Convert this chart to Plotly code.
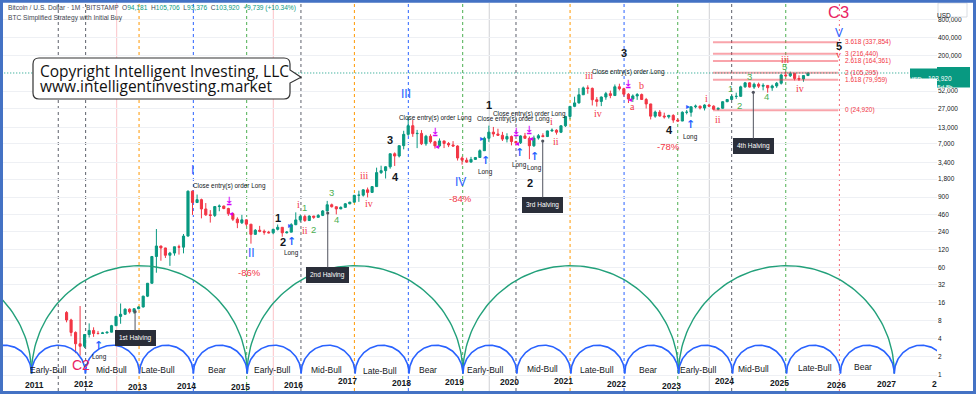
import numpy as np
import pandas as pd
import plotly.graph_objects as go

# ---------------- data: BTC/USD monthly (Bitstamp), Aug 2011 .. May 2025 ----------------
months = pd.date_range("2011-08-01", "2025-05-01", freq="MS").strftime("%Y-%m-%d").tolist()

opens = [
    10.9, 8.2, 5.1, 3.3, 3.0,
    4.7, 5.5, 4.9, 4.9, 5.0, 5.15, 6.6, 9.4, 10.2, 12.4, 11.2, 12.6,
    13.5, 20.4, 33.4, 93, 139, 129, 97.5, 106, 135, 133, 203, 1130,
    732, 818, 573, 457, 447, 628, 640, 583, 478, 387, 338, 378,
    320, 217, 254, 244, 236, 230, 263, 284, 230, 236, 314, 377,
    430, 368, 437, 416, 448, 531, 673, 624, 574, 609, 698, 742,
    966, 971, 1190, 1080, 1348, 2300, 2480, 2875, 4735, 4338, 6450, 9946,
    13850, 10221, 10309, 6925, 9240, 7494, 6391, 7729, 7012, 6626, 6363, 4025,
    3709, 3437, 3811, 4103, 5321, 8559, 10818, 10085, 9590, 8290, 9150, 7545,
    7195, 9352, 8543, 6425, 8625, 9445, 9140, 11340, 11655, 10780, 13790, 19700,
    28990, 33110, 45180, 58790, 57720, 37300, 35040, 41460, 47130, 43830, 61340, 57000,
    46200, 38480, 43190, 45540, 37710, 31800, 19940, 23300, 20040, 19420, 20490, 17160,
    16540, 23130, 23140, 28470, 29260, 27220, 30480, 29230, 25940, 26960, 34650, 37720,
    42280, 42580, 61180, 71330, 60650, 67530, 62750, 64620, 58970, 63330, 70290, 96400,
    93430, 102400, 84350, 82550, 94181,
]
highs = [
    11.5, 8.6, 5.3, 14.0, 4.8,
    7.2, 6.2, 5.4, 5.2, 5.2, 6.8, 9.6, 15.4, 12.8, 12.8, 12.8, 13.9,
    20.7, 33.8, 95, 266, 140, 130, 111, 135, 146, 220, 1163, 1165,
    995, 850, 718, 548, 629, 680, 651, 600, 492, 416, 457, 384,
    320, 265, 300, 261, 248, 268, 316, 285, 245, 332, 503, 465,
    460, 448, 440, 470, 550, 780, 704, 625, 633, 720, 755, 980,
    1153, 1215, 1300, 1363, 2780, 2999, 2940, 4790, 4986, 6470, 11400, 19666,
    17176, 11786, 11700, 9760, 9990, 7768, 8507, 7760, 7400, 7680, 6540, 4255,
    4070, 4200, 4140, 5600, 9080, 13880, 13200, 12325, 10930, 10370, 9500, 7750,
    9578, 10500, 9190, 9470, 10070, 10380, 11450, 12470, 12080, 14100, 19930, 29300,
    41950, 58350, 61780, 64900, 59600, 41330, 42300, 50500, 52920, 67000, 69000, 59100,
    47990, 45800, 48230, 47440, 40050, 31990, 24680, 25200, 22800, 20990, 21470, 18400,
    23960, 25250, 29200, 31030, 29830, 31440, 31830, 30230, 27480, 35200, 38430, 44730,
    48970, 63900, 73800, 72800, 71980, 71970, 70000, 65100, 66500, 73600, 99800, 108350,
    109590, 102780, 95000, 95700, 105706,
]
lows = [
    7.5, 4.4, 2.3, 2.1, 2.8,
    4.2, 4.3, 4.7, 4.8, 4.9, 5.1, 6.5, 7.1, 9.9, 10.5, 10.4, 12.4,
    13.2, 19.7, 33, 50, 79, 88, 65, 96, 100, 105, 200, 456,
    733, 400, 440, 340, 421, 525, 567, 440, 361, 275, 322, 296,
    152, 212, 235, 214, 225, 218, 252, 198, 225, 236, 308, 350,
    350, 365, 393, 412, 436, 520, 605, 465, 570, 605, 685, 740,
    752, 920, 891, 1060, 1345, 2185, 1837, 2671, 2970, 4110, 5600, 9380,
    9036, 5873, 6600, 6430, 7030, 5755, 6070, 5880, 6100, 6200, 3652, 3122,
    3350, 3390, 3780, 4080, 5310, 7450, 9060, 9350, 7710, 7300, 6520, 6435,
    6880, 8440, 3850, 6150, 8120, 8900, 8970, 10990, 9850, 10440, 13220, 17600,
    28130, 32300, 45000, 47000, 30000, 28800, 29280, 37330, 39600, 43300, 53300, 42000,
    32950, 34300, 37170, 37550, 26700, 17590, 18780, 19550, 18150, 18180, 15480, 16260,
    16500, 21350, 19550, 26940, 25800, 24780, 28900, 25330, 24920, 26540, 34100, 37610,
    38550, 41880, 59100, 59600, 56500, 58400, 53500, 49000, 52550, 58900, 66800, 90500,
    89200, 78200, 76600, 74400, 93376,
]
closes = [
    8.2, 5.1, 3.3, 3.0, 4.7,
    5.5, 4.9, 4.9, 5.0, 5.15, 6.6, 9.4, 10.2, 12.4, 11.2, 12.6, 13.5,
    20.4, 33.4, 93, 139, 129, 97.5, 106, 135, 133, 203, 1130, 732,
    818, 573, 457, 447, 628, 640, 583, 478, 387, 338, 378, 320,
    217, 254, 244, 236, 230, 263, 284, 230, 236, 314, 377, 430,
    368, 437, 416, 448, 531, 673, 624, 574, 609, 698, 742, 966,
    971, 1190, 1080, 1348, 2300, 2480, 2875, 4735, 4338, 6450, 9946, 13850,
    10221, 10309, 6925, 9240, 7494, 6391, 7729, 7012, 6626, 6363, 4025, 3709,
    3437, 3811, 4103, 5321, 8559, 10818, 10085, 9590, 8290, 9150, 7545, 7195,
    9352, 8543, 6425, 8625, 9445, 9140, 11340, 11655, 10780, 13790, 19700, 28990,
    33110, 45180, 58790, 57720, 37300, 35040, 41460, 47130, 43830, 61340, 57000, 46200,
    38480, 43190, 45540, 37710, 31800, 19940, 23300, 20040, 19420, 20490, 17160, 16540,
    23130, 23140, 28470, 29260, 27220, 30480, 29230, 25940, 26960, 34650, 37720, 42280,
    42580, 61180, 71330, 60650, 67530, 62750, 64620, 58970, 63330, 70290, 96400, 93430,
    102400, 84350, 82550, 94181, 103920,
]

price_ticks = [1, 2, 4, 8, 16, 32, 60, 120, 240, 460, 900, 1800, 3400, 7000, 13000,
               27000, 52000, 200000, 400000, 800000]

# Fibonacci extension levels (log)
fib_levels = ["0", "1.618", "2", "2.618", "3", "3.618"]
fib_prices = [24920, 79959, 105295, 164361, 216440, 337854]
fib_span = [2023.611, 2025.930]

# four-year cycle drawings (decimal years)
cycle_years = [2010, 2011, 2012, 2013, 2014, 2015, 2016, 2017, 2018, 2019, 2020,
               2021, 2022, 2023, 2024, 2025, 2026, 2027, 2028]
halving_cycle_years = [2007, 2011, 2015, 2019, 2023, 2027]
phase_names = ["Early-Bull", "Mid-Bull", "Late-Bull", "Bear"] * 4
phase_pos = [(2011.284, 1.21), (2012.460, 1.21), (2013.324, 1.21), (2014.407, 1.21),
             (2015.427, 1.21), (2016.447, 1.21), (2017.435, 1.16), (2018.320, 1.21),
             (2019.377, 1.21), (2020.453, 1.25), (2021.466, 1.21), (2022.400, 1.21),
             (2023.339, 1.21), (2024.359, 1.25), (2025.503, 1.32), (2026.399, 1.37)]
year_labels = ["2011", "2012", "2013", "2014", "2015", "2016", "2017", "2018", "2019",
               "2020", "2021", "2022", "2023", "2024", "2025", "2026", "2027", "2"]
year_pos = [(2011.019, 0.682), (2011.933, 0.700), (2012.934, 0.639), (2013.838, 0.656),
            (2014.839, 0.625), (2015.840, 0.682), (2016.836, 0.795), (2017.838, 0.745),
            (2018.826, 0.774), (2019.846, 0.774), (2020.835, 0.795), (2021.825, 0.709),
            (2022.832, 0.664), (2023.821, 0.795), (2024.835, 0.728), (2025.905, 0.674),
            (2026.820, 0.709), (2027.716, 0.709)]

# vertical cycle markers: (decimal year, colour, dash)
vlines = [
    (2011.469, "#5d606b", "3px,3px"), (2011.977, "#5d606b", "3px,3px"),
    (2012.552, "rgba(242,54,69,0.30)", "solid"), (2012.966, "#FF9800", "3px,3px"),
    (2013.973, "#2962FF", "3px,3px"), (2014.963, "#4CAF50", "3px,3px"),
    (2015.457, "rgba(242,54,69,0.30)", "solid"), (2015.970, "#5d606b", "3px,3px"),
    (2016.959, "#FF9800", "3px,3px"), (2017.960, "#2962FF", "3px,3px"),
    (2018.969, "#4CAF50", "3px,3px"), (2019.462, "rgba(120,123,134,0.35)", "solid"),
    (2019.958, "#5d606b", "3px,3px"), (2020.959, "#FF9800", "3px,3px"),
    (2021.961, "#2962FF", "3px,3px"), (2022.957, "#4CAF50", "3px,3px"),
    (2023.543, "rgba(120,123,134,0.35)", "solid"), (2023.958, "#5d606b", "3px,3px"),
    (2024.959, "#4CAF50", "3px,3px"), (2025.954, "rgba(242,54,69,0.75)", "2px,3px"),
]

# wave / strategy labels: (decimal year, price, text)
black_labels = [(2015.549, 401, "1"), (2015.631, 164, "2"), (2017.621, 8010, "3"),
                (2017.714, 1970, "4"), (2019.463, 30550, "1"), (2020.217, 1530, "2"),
                (2021.961, 220800, "3"), (2022.801, 11740, "4"), (2025.939, 291700, "5")]
blue_roman = [(2013.949, 2543, "I"), (2015.056, 105, "II"), (2017.912, 46560, "III"),
              (2018.919, 1626, "IV"), (2025.948, 479800, "V")]
drawdowns = [(2015.024, 50.8, "-86%"), (2018.919, 861, "-84%"), (2022.782, 6368, "-78%")]
red_small = [(2015.920, 667, "i"), (2016.044, 256, "ii"), (2017.144, 2100, "iii"),
             (2017.237, 711, "iv"), (2020.607, 15950, "i"), (2020.694, 7710, "ii"),
             (2021.317, 96200, "iii"), (2021.479, 22240, "iv"), (2022.285, 65650, "b"),
             (2022.109, 28840, "a"), (2023.494, 39180, "i"), (2023.695, 17220, "ii"),
             (2024.947, 175400, "iii"), (2025.225, 57920, "iv"), (2025.939, 206900, "v")]
green_nums = [(2016.032, 611, "1"), (2016.198, 263, "2"), (2016.540, 1067, "3"),
              (2016.619, 386, "4"), (2023.939, 56800, "1"), (2024.112, 30550, "2"),
              (2024.279, 90200, "3"), (2024.607, 41990, "4"), (2024.928, 132200, "5")]
close_orders = [(2014.635, 1379), (2018.456, 18370), (2019.921, 18090), (2020.199, 21670),
                (2022.040, 109200)]
long_text = [(2012.230, 2.01), (2015.798, 107.6), (2019.383, 2384), (2020.032, 3078),
             (2020.292, 2714), (2023.203, 8886)]
long_arrows = [(2012.224, 3.15), (2015.798, 164), (2019.383, 3727), (2020.032, 4929),
               (2020.292, 4230), (2023.185, 14220)]
exit_arrows = [(2014.635, 807), (2018.456, 11010), (2019.958, 11010), (2020.204, 12060),
               (2022.040, 68230)]
entry_marks = [(2015.766, 310), (2019.322, 8550), (2023.153, 28640)]
exit_marks = [(2014.672, 491), (2018.487, 6200), (2019.982, 7060), (2020.236, 8550),
              (2022.072, 37000)]
halvings = [("1st Halving", 2012.892, 11.26, 26), ("2nd Halving", 2016.466, 491, 62),
            ("3rd Halving", 2020.453, 7710, 64), ("4th Halving", 2024.359, 49660, 54)]

# ---------------- helpers ----------------
SANS = "Liberation Sans, Arial, sans-serif"
SERIF = "Liberation Serif, serif"
UP = "#089981"
DOWN = "#F23645"


def yr(t):
    y = int(np.floor(t))
    a = pd.Timestamp(year=y, month=1, day=1)
    b = pd.Timestamp(year=y + 1, month=1, day=1)
    return (a + (t - y) * (b - a)).strftime("%Y-%m-%d %H:%M:%S")


X0, X1 = 3, 937      # plot area in pixels (for chrome elements only)
Y0, Y1 = 3, 391


def px(x):
    return (x - X0) / (X1 - X0)


def py(y):
    return (Y1 - y) / (Y1 - Y0)


fig = go.Figure()

fig.add_trace(go.Candlestick(
    x=months, open=opens, high=highs, low=lows, close=closes,
    xperiod="M1", xperiodalignment="middle",
    increasing=dict(line=dict(color=UP, width=1), fillcolor=UP),
    decreasing=dict(line=dict(color=DOWN, width=1), fillcolor=DOWN),
    whiskerwidth=0, showlegend=False, hoverinfo="skip"))

# cycle arcs (semicircles in screen space)
CUSP_SHIFT = -0.027
BASE = 0.025


def arcs(years, R, n=90):
    xs, ys = [], []
    for a, b in zip(years[:-1], years[1:]):
        a += CUSP_SHIFT
        b += CUSP_SHIFT
        th = np.linspace(0, np.pi, n)
        c, h = (a + b) / 2, (b - a) / 2
        for tt, L in zip(c - h * np.cos(th), BASE + R * np.sin(th)):
            xs.append(yr(tt))
            ys.append(10 ** L)
        xs.append(None)
        ys.append(None)
    return xs, ys


bx, by = arcs(cycle_years, 0.47)
gx, gy = arcs(halving_cycle_years, 1.791)
fig.add_trace(go.Scatter(x=gx, y=gy, mode="lines", line=dict(color="#22A07A", width=1.4),
                         hoverinfo="skip", showlegend=False))
fig.add_trace(go.Scatter(x=bx, y=by, mode="lines", line=dict(color="#2962FF", width=1.6),
                         hoverinfo="skip", showlegend=False))

# fib lines
fx, fy = [], []
for p in fib_prices:
    fx += [yr(fib_span[0]), yr(fib_span[1]), None]
    fy += [p, p, None]
fig.add_trace(go.Scatter(x=fx, y=fy, mode="lines", line=dict(color="rgba(242,54,69,0.45)", width=2),
                         hoverinfo="skip", showlegend=False))

# last price line
fig.add_trace(go.Scatter(x=[yr(2010.3), yr(2028)], y=[closes[-1], closes[-1]], mode="lines",
                         line=dict(color=UP, width=1, dash="1px,2px"), hoverinfo="skip",
                         showlegend=False))

shapes = []
for t, col, dash in vlines:
    shapes.append(dict(type="line", xref="x", yref="paper", x0=yr(t), x1=yr(t), y0=0, y1=1,
                       line=dict(color=col, width=1, dash=dash), layer="below"))

ann = []


def txt(t, p, text, color, size, family=SANS, xanchor="center", yanchor="middle"):
    ann.append(dict(x=yr(t), y=np.log10(p), xref="x", yref="y", text=text, showarrow=False,
                    font=dict(color=color, size=size, family=family),
                    xanchor=xanchor, yanchor=yanchor))


for t, p, s in black_labels:
    txt(t, p, f"<b>{s}</b>", "#131722", 11)
for t, p, s in blue_roman:
    txt(t, p, s, "#2962FF", 12)
for t, p, s in drawdowns:
    txt(t, p, s, "#F23645", 9.5)
for t, p, s in red_small:
    txt(t, p, s, "#F23645", 10, SERIF)
for t, p, s in green_nums:
    txt(t, p, s, "#4CAF50", 9.5)
for t, p in close_orders:
    txt(t, p, "Close entry(s) order Long", "#131722", 6.4)
for t, p in long_text:
    txt(t, p, "Long", "#131722", 6.4)
for t, p in long_arrows:
    txt(t, p, "<b>↑</b>", "#2962FF", 11, "DejaVu Sans")
for t, p in exit_arrows:
    txt(t, p, "<b>⤓</b>", "#D500F9", 10, "DejaVu Sans")
for t, p in entry_marks:
    txt(t, p, "▸", "#2962FF", 8, "DejaVu Sans")
for t, p in exit_marks:
    txt(t, p, "◂", "#D500F9", 8, "DejaVu Sans")
for (t, p), s in zip(phase_pos, phase_names):
    txt(t, p, s, "#131722", 8.5)
for (t, p), s in zip(year_pos, year_labels):
    txt(t, p, f"<b>{s}</b>", "#131722", 8.5)
txt(2011.890, 1.466, "C2", "#E91E63", 14)
txt(2025.929, 1.07e6, "C3", "#E91E63", 16.5)
for lv, p in zip(fib_levels, fib_prices):
    txt(2026.022, p, f"{lv} ({p:,})", "#F23645", 6.5, xanchor="left")

for name, t, p, off in halvings:
    ann.append(dict(x=yr(t), y=np.log10(p), xref="x", yref="y", text=name, showarrow=True,
                    arrowhead=6, arrowsize=0.8, arrowwidth=1, arrowcolor="#50535E", ax=0, ay=off,
                    bgcolor="#2A2E39", bordercolor="#2A2E39", borderpad=3,
                    font=dict(color="white", size=6.5, family=SANS)))

# header
o, h, l, c = opens[-1], highs[-1], lows[-1], closes[-1]
chg = c - closes[-2]
T = '<span style="color:#089981">'
header = (f"Bitcoin / U.S. Dollar · 1M · BITSTAMP  O{T}{o:,.0f}</span>  H{T}{h:,.0f}</span>  "
          f"L{T}{l:,.0f}</span>  C{T}{c:,.0f}</span>  {T}+{chg:,.0f} (+{chg / closes[-2] * 100:.2f}%)</span>")
ann.append(dict(x=px(6), y=py(8), xref="paper", yref="paper", text=header, showarrow=False,
                xanchor="left", yanchor="middle", font=dict(size=6.6, color="#434651", family=SANS)))
ann.append(dict(x=px(6), y=py(18), xref="paper", yref="paper",
                text="BTC Simplified Strategy with Initial Buy", showarrow=False,
                xanchor="left", yanchor="middle", font=dict(size=6.6, color="#434651", family=SANS)))

# callout bubble
def P(x, y):
    return f"{px(x):.5f},{py(y):.5f}"


bubble = (f"M{P(39,58)} L{P(284,58)} Q{P(290,58)} {P(290,64)} L{P(290,70)} L{P(301,77.3)} "
          f"L{P(290,83)} L{P(290,93)} Q{P(290,99)} {P(284,99)} L{P(39,99)} Q{P(33,99)} {P(33,93)} "
          f"L{P(33,64)} Q{P(33,58)} {P(39,58)} Z")
shapes.append(dict(type="path", xref="paper", yref="paper", path=bubble,
                   line=dict(color="#333333", width=1.2), fillcolor="white", layer="above"))
for yy, s in [(70.5, "Copyright Intelligent Investing, LLC"), (86, "www.intelligentinvesting.market")]:
    ann.append(dict(x=px(37.5), y=py(yy), xref="paper", yref="paper", text=s, showarrow=False,
                    xanchor="left", yanchor="middle",
                    font=dict(size=15.5, color="#111111", family="Open Sans, sans-serif")))

# price tags
shapes.append(dict(type="rect", xref="paper", yref="paper", x0=px(910), x1=px(937),
                   y0=py(78.5), y1=py(68.5), fillcolor=UP, line=dict(width=0), layer="above"))
shapes.append(dict(type="rect", xref="paper", yref="paper", x0=px(937), x1=px(970),
                   y0=py(87.5), y1=py(67), fillcolor=UP, line=dict(width=0), layer="above"))
ann.append(dict(x=px(923.5), y=py(73.5), xref="paper", yref="paper", text="BTCUSD", showarrow=False,
                font=dict(size=6, color="white", family=SANS)))
ann.append(dict(x=px(953.5), y=py(72.5), xref="paper", yref="paper", text=f"{closes[-1]:,.0f}",
                showarrow=False, font=dict(size=6.5, color="white", family=SANS)))
ann.append(dict(x=px(953.5), y=py(82), xref="paper", yref="paper", text="15d 8h",
                showarrow=False, font=dict(size=6, color="white", family=SANS)))
shapes.append(dict(type="rect", xref="paper", yref="paper", x0=px(938), x1=px(967),
                   y0=py(17), y1=py(3), fillcolor="white", line=dict(color="#D1D4DC", width=0.8),
                   layer="above"))
ann.append(dict(x=px(952.5), y=py(10), xref="paper", yref="paper", text="USD", showarrow=False,
                font=dict(size=6.5, color="#131722", family=SANS)))

# outer blue frame
shapes.append(dict(type="rect", xref="paper", yref="paper", x0=px(1.5), x1=px(974.5),
                   y0=py(392.5), y1=py(1.2), line=dict(color="#4472C4", width=3),
                   fillcolor="rgba(0,0,0,0)", layer="above"))

fig.update_layout(
    width=976, height=394, margin=dict(l=3, r=39, t=3, b=3),
    paper_bgcolor="white", plot_bgcolor="white", showlegend=False,
    shapes=shapes, annotations=ann,
    xaxis=dict(type="date", range=[yr(2010.4436), yr(2027.7656)], showticklabels=False,
               showgrid=False, zeroline=False, rangeslider=dict(visible=False), fixedrange=True),
    yaxis=dict(type="log", side="right", range=[-0.2658, 6.1794], tickvals=price_ticks,
               ticktext=[f"{v:,}" for v in price_ticks],
               tickfont=dict(size=6.5, color="#131722", family=SANS),
               showgrid=True, gridcolor="#EEF0F4", gridwidth=1, zeroline=False, ticks="",
               showline=False, fixedrange=True),
)

fig.write_html("out.html", config={"displayModeBar": False},
               post_script="document.body.style.margin='0px';document.body.style.overflow='hidden';")
